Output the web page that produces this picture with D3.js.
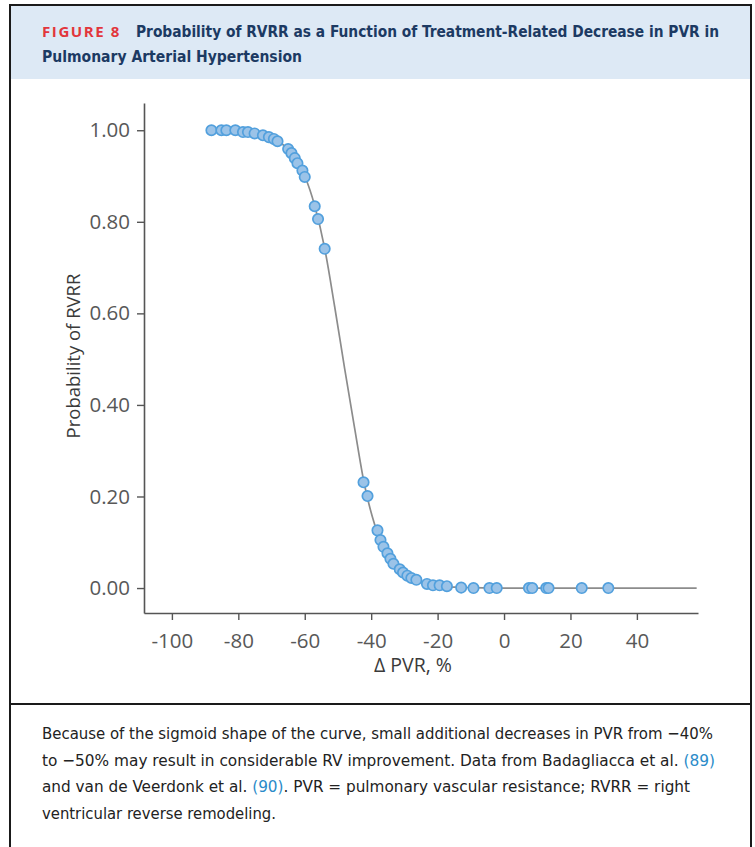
<!DOCTYPE html>
<html>
<head>
<meta charset="utf-8">
<script src="https://cdn.jsdelivr.net/npm/d3@7"></script>
<style>
  html, body { margin: 0; padding: 0; background: #fff; }
  svg { display: block; }
</style>
</head>
<body>
<div id="chart"></div>
<script>
// observed points: change in PVR (%) and probability of RVRR
const pointX = [-88.1, -85.1, -83.6, -80.9, -78.6, -77.1, -75.1, -72.6, -70.8, -69.3, -68.2,
    -65.0, -64.0, -63.0, -62.2, -60.7, -60.0, -57.0, -56.0, -54.0,
    -42.3, -41.1, -38.1, -37.2, -36.3, -35.1, -34.2, -33.3, -31.4, -30.4, -29.1, -27.9, -26.4,
    -23.2, -21.4, -19.4, -17.2, -12.9, -9.2, -4.4, -2.2, 7.5, 8.5, 12.7, 13.4, 23.4, 31.4];
const pointY = [1.00, 1.00, 1.00, 1.00, 0.996, 0.996, 0.993, 0.989, 0.985, 0.981, 0.976,
    0.959, 0.950, 0.939, 0.928, 0.912, 0.898, 0.834, 0.806, 0.741,
    0.231, 0.201, 0.126, 0.105, 0.090, 0.076, 0.064, 0.053, 0.041, 0.034, 0.027, 0.022, 0.018,
    0.009, 0.006, 0.006, 0.004, 0.001, 0, 0, 0, 0, 0, 0, 0, 0, 0];

// fitted curve
const curveX = [-88, -80, -75, -70, -66, -63, -60, -57, -54, -51, -48, -45, -42, -39, -36, -33, -30, -27, -24, -20, -15, -10, -5, 0, 58];
const curveY = [0.999, 0.997, 0.993, 0.983, 0.965, 0.94, 0.90, 0.835, 0.742, 0.615, 0.48, 0.35, 0.225, 0.14, 0.085, 0.052, 0.032, 0.02, 0.011, 0.005, 0.002, 0.001, 0.0003, 0, 0];

const xTicks = [-100, -80, -60, -40, -20, 0, 20, 40];
const yTicks = [0, 0.2, 0.4, 0.6, 0.8, 1.0];

const width = 755, height = 847;
const narrow = "'DejaVu Sans', sans-serif";
const sans = "'Open Sans', 'Noto Sans', sans-serif";

const svg = d3.select("#chart").append("svg").attr("width", width).attr("height", height);

// frame and header band
svg.append("rect").attr("x", 11).attr("y", 6).attr("width", 739).attr("height", 73).attr("fill", "#dde9f5");
svg.append("path").attr("d", "M10,847V5H751V847").attr("fill", "none").attr("stroke", "#1a1a1a").attr("stroke-width", 2);
svg.append("line").attr("x1", 10).attr("x2", 751).attr("y1", 704).attr("y2", 704).attr("stroke", "#1a1a1a").attr("stroke-width", 2);

svg.append("text").attr("x", 42).attr("y", 37)
    .attr("font-family", sans).attr("font-weight", 700).attr("font-size", 13.5)
    .attr("letter-spacing", 1.4).attr("fill", "#e2363c")
    .attr("textLength", 79).attr("lengthAdjust", "spacingAndGlyphs")
    .text("FIGURE 8");
svg.append("text").attr("x", 136).attr("y", 37)
    .attr("font-family", narrow).attr("font-stretch", "condensed").attr("font-weight", 700)
    .attr("font-size", 16).attr("fill", "#1c3a63")
    .attr("textLength", 583).attr("lengthAdjust", "spacingAndGlyphs")
    .text("Probability of RVRR as a Function of Treatment-Related Decrease in PVR in");
svg.append("text").attr("x", 42).attr("y", 62)
    .attr("font-family", narrow).attr("font-stretch", "condensed").attr("font-weight", 700)
    .attr("font-size", 16).attr("fill", "#1c3a63")
    .attr("textLength", 260).attr("lengthAdjust", "spacingAndGlyphs")
    .text("Pulmonary Arterial Hypertension");

// scales
const x = d3.scaleLinear().domain([-108.4, 58.4]).range([144, 698]);
const y = d3.scaleLinear().domain([-0.0545, 1.0595]).range([613, 103]);

const xAxis = svg.append("g").attr("transform", `translate(0,${y.range()[0]})`)
    .call(d3.axisBottom(x).tickValues(xTicks).tickFormat(d => String(d)).tickSize(7).tickSizeOuter(0));
const yAxis = svg.append("g").attr("transform", `translate(${x.range()[0]},0)`)
    .call(d3.axisLeft(y).tickValues(yTicks).tickFormat(d3.format(".2f")).tickSize(7).tickSizeOuter(0));

[xAxis, yAxis].forEach(g => {
    g.select(".domain").attr("stroke", "#555").attr("stroke-width", 1.6);
    g.selectAll(".tick line").attr("stroke", "#555").attr("stroke-width", 1.4);
    g.selectAll(".tick text").attr("font-family", sans).attr("font-size", 20.5).attr("fill", "#585858");
});
xAxis.selectAll(".tick text").attr("y", 10).attr("dy", "1.2em");
yAxis.selectAll(".tick text").attr("x", -14);

svg.append("text").attr("x", 413).attr("y", 672).attr("text-anchor", "middle")
    .attr("font-family", sans).attr("font-weight", 500).attr("font-size", 19.5).attr("fill", "#3a3a3a")
    .text("Δ PVR, %");
svg.append("text").attr("transform", "translate(80,356) rotate(-90)").attr("text-anchor", "middle")
    .attr("font-family", sans).attr("font-weight", 500).attr("font-size", 18.5).attr("fill", "#3a3a3a")
    .text("Probability of RVRR");

// curve
const line = d3.line().x(d => x(d[0])).y(d => y(d[1])).curve(d3.curveMonotoneX);
svg.append("path").datum(d3.zip(curveX, curveY))
    .attr("d", line).attr("fill", "none").attr("stroke", "#8c8c8c").attr("stroke-width", 1.7);

// points
svg.append("g").selectAll("circle")
    .data(d3.zip(pointX, pointY))
    .join("circle")
    .attr("cx", d => x(d[0]))
    .attr("cy", d => y(d[1]))
    .attr("r", 5.2)
    .attr("fill", "#9bc3e8")
    .attr("stroke", "#52a0dd")
    .attr("stroke-width", 1.7);

// caption
const caption = [
    [["Because of the sigmoid shape of the curve, small additional decreases in PVR from \u221240%", false]],
    [["to \u221250% may result in considerable RV improvement. Data from Badagliacca et al. ", false], ["(89)", true]],
    [["and van de Veerdonk et al. ", false], ["(90)", true], [". PVR = pulmonary vascular resistance; RVRR = right", false]],
    [["ventricular reverse remodeling.", false]]
];
const captionWidths = [671, 673, 648, 234];
caption.forEach((parts, i) => {
    const t = svg.append("text").attr("x", 42).attr("y", 739 + i * 26.5)
        .attr("font-family", narrow).attr("font-stretch", "condensed").attr("font-size", 16.5).attr("fill", "#222")
        .attr("textLength", captionWidths[i]).attr("lengthAdjust", "spacingAndGlyphs");
    parts.forEach(p => t.append("tspan").attr("fill", p[1] ? "#2a8bc9" : "#222").text(p[0]));
});
</script>
</body>
</html>
